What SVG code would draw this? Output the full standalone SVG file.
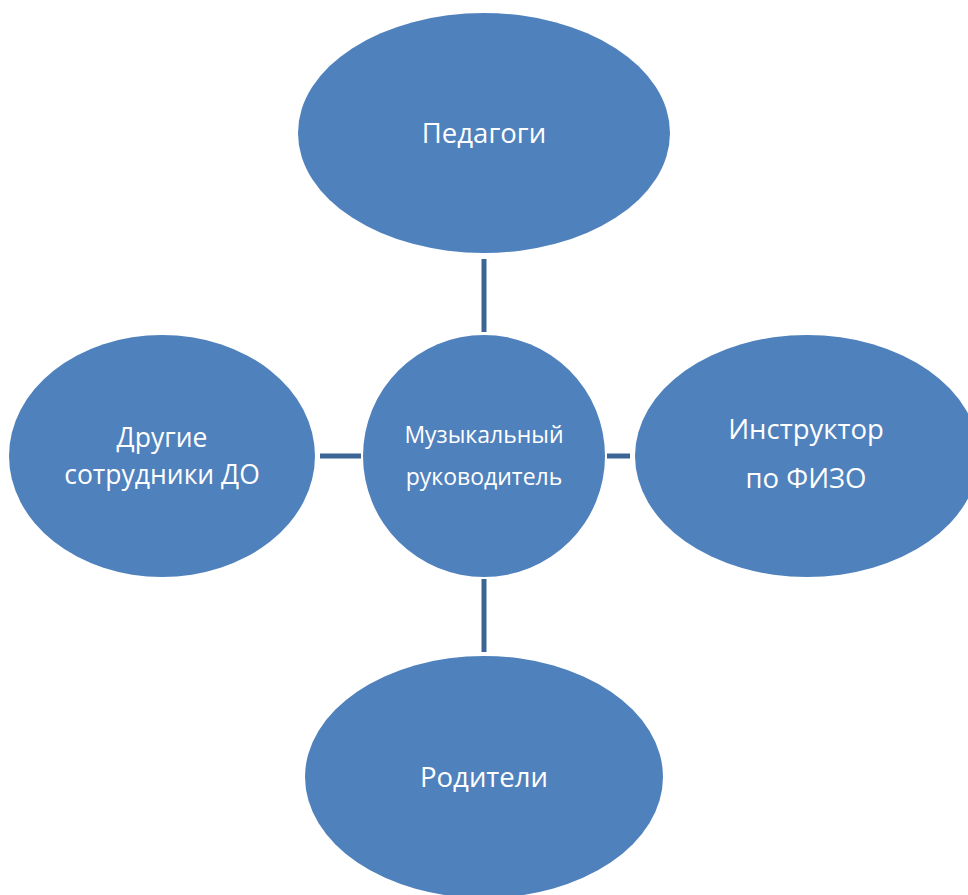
<svg xmlns="http://www.w3.org/2000/svg" width="968" height="895" viewBox="0 0 968 895">
<style>
.node{fill:#4f81bd;}
.lbl{font-family:"Open Sans","Noto Sans","DejaVu Sans",sans-serif;fill:#ffffff;text-anchor:middle;font-size:27.5px;}
.conn{stroke:#3c6595;stroke-width:5;fill:none;}
</style>
<rect width="968" height="895" fill="#ffffff"/>
<g id="connectors">
<line class="conn" x1="484" y1="259" x2="484" y2="332"/>
<line class="conn" x1="484" y1="579" x2="484" y2="652"/>
<line class="conn" x1="320" y1="456" x2="361" y2="456"/>
<line class="conn" x1="607" y1="456" x2="630" y2="456"/>
</g>
<g id="node-pedagogi">
<ellipse class="node" cx="484" cy="133" rx="186" ry="120"/>
<text class="lbl" x="484" y="143">Педагоги</text>
</g>
<g id="node-center">
<circle class="node" cx="484" cy="456" r="121"/>
<text class="lbl" x="484" y="443" style="font-size:23px">Музыкальный</text>
<text class="lbl" x="484" y="485" style="font-size:23px">руководитель</text>
</g>
<g id="node-drugie">
<ellipse class="node" cx="162" cy="456" rx="153" ry="121"/>
<text class="lbl" x="162" y="447" style="font-size:26.5px">Другие</text>
<text class="lbl" x="162" y="484" style="font-size:26.5px">сотрудники ДО</text>
</g>
<g id="node-instruktor">
<ellipse class="node" cx="807" cy="456" rx="172" ry="121"/>
<text class="lbl" x="806" y="439">Инструктор</text>
<text class="lbl" x="806" y="488">по ФИЗО</text>
</g>
<g id="node-roditeli">
<ellipse class="node" cx="484" cy="777" rx="179" ry="121"/>
<text class="lbl" x="484" y="787">Родители</text>
</g>
</svg>
